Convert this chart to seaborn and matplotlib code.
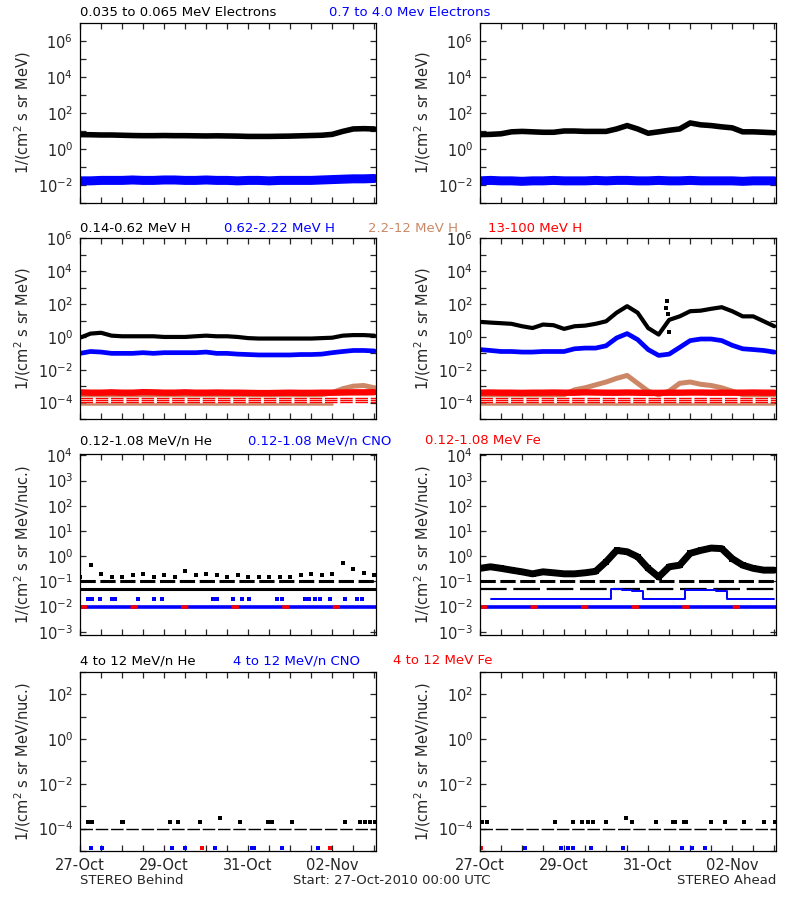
import numpy as np
import pandas as pd
import matplotlib
matplotlib.use("Agg")
import matplotlib.pyplot as plt
import matplotlib.dates as mdates
import seaborn as sns

nan = np.nan
t0 = pd.Timestamp("2010-10-27 00:00")
# 6-hourly samples
times = pd.date_range(t0, periods=29, freq="6h")

# ---- electrons ----
elec_lo_behind = [6.3, 6.2, 6.0, 6.0, 5.8, 5.6, 5.5, 5.5, 5.6, 5.5, 5.5, 5.4, 5.3, 5.4, 5.3,
                  5.2, 5.0, 5.0, 5.0, 5.1, 5.2, 5.4, 5.6, 5.8, 6.5, 9.5, 13, 13.5, 13]
elec_hi_behind = [0.017, 0.017, 0.018, 0.018, 0.018, 0.019, 0.018, 0.018, 0.019, 0.019, 0.018,
                  0.018, 0.019, 0.018, 0.018, 0.017, 0.018, 0.018, 0.017, 0.018, 0.018, 0.018,
                  0.018, 0.019, 0.020, 0.021, 0.022, 0.022, 0.023]
elec_lo_ahead = [6.3, 6.5, 7.0, 9.0, 9.5, 9.0, 8.5, 8.5, 10, 10, 9.5, 9.5, 9.5, 13, 20, 13,
                 7.5, 9, 11, 13, 28, 22, 20, 17, 15, 9, 9, 8.5, 8]
elec_hi_ahead = [0.017, 0.018, 0.017, 0.017, 0.016, 0.017, 0.017, 0.018, 0.017, 0.017, 0.017,
                 0.018, 0.017, 0.018, 0.018, 0.017, 0.017, 0.018, 0.017, 0.017, 0.018, 0.017,
                 0.017, 0.017, 0.017, 0.016, 0.017, 0.017, 0.017]

# ---- protons ----
h1_behind = [0.9, 1.6, 1.8, 1.2, 1.1, 1.1, 1.1, 1.1, 1.0, 1.0, 1.0, 1.1, 1.2, 1.1, 1.1, 1.0,
             0.85, 0.8, 0.8, 0.8, 0.8, 0.8, 0.8, 0.85, 0.9, 1.2, 1.3, 1.3, 1.2]
h2_behind = [0.10, 0.13, 0.12, 0.10, 0.10, 0.10, 0.11, 0.10, 0.11, 0.11, 0.11, 0.11, 0.12, 0.10,
             0.10, 0.09, 0.085, 0.08, 0.08, 0.08, 0.08, 0.085, 0.085, 0.09, 0.11, 0.13, 0.15,
             0.15, 0.14]
h3_behind = [3e-4] * 24 + [4e-4, 7e-4, 1e-3, 1.1e-3, 8e-4]
h4_behind = [4.2e-4, 4e-4, 4e-4, 4.2e-4, 4e-4, 4e-4, 4.3e-4, 4.2e-4, 4e-4, 4e-4, 4.2e-4, 4e-4,
             4e-4, 4.1e-4, 4e-4, 4e-4, 3.9e-4, 3.8e-4, 3.8e-4, 3.9e-4, 4e-4, 3.9e-4, 3.9e-4,
             4e-4, 4e-4, 4.1e-4, 4.2e-4, 4.2e-4, 4.3e-4]
h3_floor_behind = [8.7e-5] * 25 + [nan] * 4

h1_ahead = [8.3, 7.5, 6.9, 6.3, 4.5, 3.5, 5.7, 5.2, 3.1, 4.5, 4.9, 6.3, 9, 30, 75, 30, 3.5,
            1.4, 11, 18, 37, 40, 52, 65, 37, 18, 18, 9, 4.5]
h2_ahead = [0.17, 0.15, 0.13, 0.13, 0.12, 0.12, 0.13, 0.13, 0.13, 0.19, 0.21, 0.21, 0.29, 0.87,
            1.6, 0.69, 0.17, 0.075, 0.09, 0.23, 0.6, 0.75, 0.75, 0.6, 0.31, 0.19, 0.17, 0.15,
            0.12]
h3_ahead = [3e-4] * 9 + [6e-4, 8e-4, 1.2e-3, 1.8e-3, 3e-3, 4.5e-3, 1.5e-3, 5e-4, 3e-4, 5e-4,
                         1.5e-3, 1.8e-3, 1.3e-3, 1.1e-3, 8e-4, 5e-4, 3e-4, 3e-4, 3e-4, 3e-4]
h4_ahead = [4e-4, 4.1e-4, 4e-4, 4e-4, 3.9e-4, 4e-4, 4e-4, 4.1e-4, 4e-4, 4e-4, 4.2e-4, 4.1e-4,
            4e-4, 4e-4, 4.1e-4, 4e-4, 3.9e-4, 3.9e-4, 4e-4, 4e-4, 4.1e-4, 4.1e-4, 4e-4, 4e-4,
            4e-4, 4e-4, 4.1e-4, 4e-4, 4e-4]
h3_floor_ahead = [8.7e-5] * 13 + [nan] * 3 + [8.7e-5] * 4 + [nan] * 4 + [8.7e-5] * 5
h4_levels = [1.9e-4, 1.4e-4, 1.05e-4]
# isolated spike after the shock
h1_spike_days = [4.42, 4.45, 4.47, 4.5]
h1_spike_vals = [60, 150, 25, 2.0]

# ---- heavy ions, 0.12-1.08 MeV/n ----
he_top_behind = [0.15, 0.45, 0.2, 0.15, 0.15, 0.18, 0.2, 0.15, 0.18, 0.15, 0.25, 0.18, 0.2, 0.18,
                 0.15, 0.18, 0.15, 0.15, 0.15, 0.15, 0.15, 0.18, 0.2, 0.18, 0.2, 0.55, 0.3, 0.22,
                 0.18]
he_ahead = [0.33, 0.38, 0.33, 0.28, 0.24, 0.2, 0.24, 0.22, 0.2, 0.2, 0.22, 0.25, 0.6, 1.7, 1.5,
            0.95, 0.33, 0.15, 0.38, 0.44, 1.3, 1.7, 2.1, 2.0, 0.8, 0.44, 0.33, 0.28, 0.28]
he_levels = [0.1, 0.05]
cno_ahead = [nan, 0.021, nan, nan, nan, 0.021, 0.021, nan, nan, 0.021, nan, nan, 0.021, 0.05,
             0.045, 0.04, 0.021, nan, 0.021, 0.021, 0.045, 0.045, 0.045, 0.04, 0.021, 0.021,
             0.021, 0.021, 0.021]
cno_dots_behind_days = [0.2, 0.28, 0.48, 0.75, 0.83, 1.39, 1.75, 1.94, 3.17, 3.25, 3.65, 3.85,
                        4.01, 4.68, 4.8, 5.36, 5.44, 5.6, 5.71, 5.95, 6.31, 6.59, 6.71]
cno_floor = 0.01

# ---- heavy ions, 4-12 MeV/n ----
he4_behind_days = [0.2, 0.28, 0.99, 1.03, 2.14, 2.34, 2.86, 3.81, 4.48, 4.56, 5.04, 6.31, 6.67,
                   6.79, 6.9, 7.02]
he4_ahead_days = [0.04, 0.16, 1.79, 2.21, 2.42, 2.58, 2.7, 3.0, 3.61, 4.19, 4.59, 4.65, 4.86,
                  4.9, 5.49, 5.83, 6.29, 6.76, 7.02]
he4_level = 2e-4
he4_peak_behind = (3.33, 3e-4)
he4_peak_ahead = (3.48, 3e-4)
cno4_behind_days = [0.25, 0.52, 2.18, 2.5, 3.21, 4.09, 4.13, 4.8, 5.67]
cno4_ahead_days = [1.06, 1.92, 2.1, 2.21, 2.63, 3.4, 4.8, 5.05, 5.36]
fe4_behind_days = [2.9, 5.95]
fe4_ahead_days = [0.02]
ion4_low = 1.3e-5
one_count = 1e-4

BLUE = "#0000ff"
RED = "#ff0000"
TAN = "#cc8866"

sns.set_style("ticks")
plt.rcParams["font.family"] = ["DejaVu Sans"]
plt.rcParams["font.size"] = 10

fig = plt.figure(figsize=(8, 9), dpi=100)


def at_days(d):
    return t0 + pd.to_timedelta(np.asarray(d, dtype=float), unit="D")


def band(ax, y, color, lw):
    sns.lineplot(x=times, y=y, ax=ax, color=color, lw=lw, legend=False)


def level(ax, y, color, lw, dashes=None):
    ln = ax.axhline(y, color=color, lw=lw)
    if dashes:
        ln.set_dashes(dashes)


def dots(ax, days, y, color, s=6):
    d = at_days(days)
    yy = y if np.ndim(y) else [y] * len(d)
    sns.scatterplot(x=d, y=yy, ax=ax, color=color, marker="s", s=s,
                    linewidth=0, legend=False)


def style(ax, ylim, labelled, unlabelled, ylabel, bottom):
    ax.set_yscale("log")
    ax.set_ylim(*ylim)
    ax.set_xlim(t0, t0 + pd.Timedelta(hours=169))
    ax.set_yticks([10.0 ** e for e in labelled])
    ax.set_yticks([10.0 ** e for e in unlabelled], minor=True)
    ax.set_yticklabels(["$10^{%d}$" % e for e in labelled])
    ax.set_xticks(at_days([0, 2, 4, 6]))
    ax.set_xticks(at_days(np.arange(0, 7.5, 0.5)), minor=True)
    ax.xaxis.set_major_formatter(mdates.DateFormatter("%d-%b"))
    ax.tick_params(which="both", direction="in", length=4.5, width=0.9,
                   top=True, right=True, labelsize=10.5, pad=5)
    ax.tick_params(axis="y", which="minor", labelleft=False)
    if not bottom:
        ax.tick_params(axis="x", labelbottom=False)
    for sp in ax.spines.values():
        sp.set_color("black")
        sp.set_linewidth(0.9)
    ax.set_xlabel("")
    ax.set_ylabel(ylabel, fontsize=10.5)
    ax.yaxis.set_label_coords(-47 / 296, 0.5)


lab1 = "1/(cm$^2$ s sr MeV)"
lab2 = "1/(cm$^2$ s sr MeV/nuc.)"
rows_px = [(23, 203), (238.5, 419), (454.3, 635), (671.7, 851)]
cols_px = [80, 480]
axes = []
for top, bot in rows_px:
    row = []
    for left in cols_px:
        row.append(fig.add_axes([left / 800, 1 - bot / 900, 296 / 800, (bot - top) / 900]))
    axes.append(row)

# row 1 electrons
for ax, lo, hi in [(axes[0][0], elec_lo_behind, elec_hi_behind),
                   (axes[0][1], elec_lo_ahead, elec_hi_ahead)]:
    band(ax, hi, BLUE, 6.5)
    band(ax, lo, "black", 4.0)
    style(ax, (1e-3, 1e7), [-2, 0, 2, 4, 6], [-3, -1, 1, 3, 5], lab1, False)

# row 2 protons
for ax, h1, h2, h3, h4, floor in [
        (axes[1][0], h1_behind, h2_behind, h3_behind, h4_behind, h3_floor_behind),
        (axes[1][1], h1_ahead, h2_ahead, h3_ahead, h4_ahead, h3_floor_ahead)]:
    sns.lineplot(x=times, y=floor, ax=ax, color=TAN, lw=1.8, legend=False)
    for lv in h4_levels:
        level(ax, lv, RED, 1.0, dashes=(9, 2))
    band(ax, h3, TAN, 3.6)
    band(ax, h4, RED, 4.6)
    band(ax, h2, BLUE, 3.4)
    band(ax, h1, "black", 3.0)
    style(ax, (1e-5, 1e6), [-4, -2, 0, 2, 4, 6], [-5, -3, -1, 1, 3, 5], lab1, False)
dots(axes[1][1], h1_spike_days, h1_spike_vals, "black", s=5)

# row 3 heavy ions, low energy
ax = axes[2][0]
level(ax, he_levels[1], "black", 2.2)
level(ax, he_levels[0], "black", 2.2, dashes=(5, 1.5))
sns.scatterplot(x=times, y=he_top_behind, ax=ax, color="black", marker="s", s=6,
                linewidth=0, legend=False)
dots(ax, cno_dots_behind_days, 0.021, BLUE, s=8)
level(ax, cno_floor, BLUE, 2.6)
level(ax, cno_floor, RED, 2.6, dashes=(2, 12))

ax = axes[2][1]
level(ax, he_levels[1], "black", 1.6, dashes=(12, 3))
level(ax, he_levels[0], "black", 2.2, dashes=(5, 1.5))
sns.lineplot(x=times, y=cno_ahead, ax=ax, color=BLUE, lw=1.4, drawstyle="steps-mid",
             legend=False)
band(ax, he_ahead, "black", 5.0)
sns.scatterplot(x=times, y=he_ahead, ax=ax, color="black", marker="s", s=18,
                linewidth=0, legend=False)
level(ax, cno_floor, BLUE, 2.6)
level(ax, cno_floor, RED, 2.6, dashes=(2, 12))
for ax in axes[2]:
    style(ax, (7.5e-4, 1.1e4), [-3, -2, -1, 0, 1, 2, 3, 4], [], lab2, False)

# row 4 heavy ions, high energy
for ax, he_d, peak, cno_d, fe_d in [
        (axes[3][0], he4_behind_days, he4_peak_behind, cno4_behind_days, fe4_behind_days),
        (axes[3][1], he4_ahead_days, he4_peak_ahead, cno4_ahead_days, fe4_ahead_days)]:
    level(ax, one_count, "black", 1.0, dashes=(9, 2))
    dots(ax, he_d, he4_level, "black")
    dots(ax, [peak[0]], peak[1], "black")
    dots(ax, cno_d, ion4_low, BLUE)
    dots(ax, fe_d, ion4_low, RED)
    style(ax, (1e-5, 1e3), [-4, -2, 0, 2], [-5, -3, -1, 1, 3], lab2, True)

# row headers
headers = [
    (13, [(80, "0.035 to 0.065 MeV Electrons", "black"), (329, "0.7 to 4.0 Mev Electrons", BLUE)]),
    (228, [(80, "0.14-0.62 MeV H", "black"), (224, "0.62-2.22 MeV H", BLUE),
           (368, "2.2-12 MeV H", TAN), (488, "13-100 MeV H", RED)]),
    (441, [(80, "0.12-1.08 MeV/n He", "black"), (248, "0.12-1.08 MeV/n CNO", BLUE),
           (425, "0.12-1.08 MeV Fe", RED)]),
    (661, [(80, "4 to 12 MeV/n He", "black"), (233, "4 to 12 MeV/n CNO", BLUE),
           (393, "4 to 12 MeV Fe", RED)]),
]
for py, parts in headers:
    for px, txt, col in parts:
        fig.text(px / 800, 1 - py / 900, txt, color=col, fontsize=9.5, va="center", ha="left")

fig.text(80 / 800, 1 - 881 / 900, "STEREO Behind", fontsize=9.5, va="center", ha="left")
fig.text(293 / 800, 1 - 881 / 900, "Start: 27-Oct-2010 00:00 UTC", fontsize=9.5,
         va="center", ha="left")
fig.text(776 / 800, 1 - 881 / 900, "STEREO Ahead", fontsize=9.5, va="center", ha="right")

fig.savefig("out.png", dpi=100)
